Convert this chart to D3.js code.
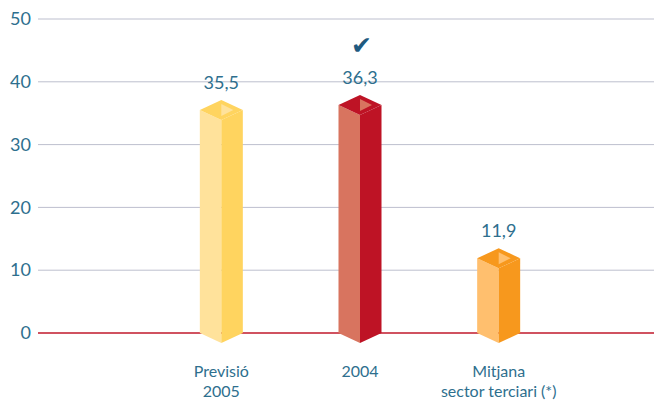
<!DOCTYPE html>
<html><head><meta charset="utf-8">
<script src="https://cdn.jsdelivr.net/npm/d3@7"></script>
<style>body{margin:0;background:#fff}svg{display:block}text{font-family:"Lato","Open Sans",sans-serif}</style>
</head><body>
<script>
const categories = [["Previsió","2005"],["2004"],["Mitjana","sector terciari (*)"]];
const values = [35.5, 36.3, 11.9];
const valueLabels = ["35,5","36,3","11,9"];
const yTicks = [0,10,20,30,40,50];
const leftColors = ["#FFE29B","#D8745F","#FFBF6E"];
const rightColors = ["#FFD45F","#BE1325","#F7981D"];

const W=654,H=400;
const svg=d3.select("body").append("svg").attr("width",W).attr("height",H);
const y=d3.scaleLinear().domain([0,50]).range([333,19]);
const x=d3.scaleBand().domain(d3.range(values.length)).range([152,568]);
const textColor="#2E6F8E";

// gridlines
svg.append("g").selectAll("line").data(yTicks.filter(d=>d>0)).join("line")
  .attr("x1",38).attr("x2",W).attr("y1",d=>y(d)).attr("y2",d=>y(d))
  .attr("stroke","#BDBFCE").attr("stroke-width",1);
svg.append("line").attr("x1",38).attr("x2",W).attr("y1",y(0)).attr("y2",y(0))
  .attr("stroke","#C0182B").attr("stroke-width",1.5);

// y axis labels
const yAxis=d3.axisLeft(y).tickValues(yTicks).tickSize(0).tickPadding(0);
const ga=svg.append("g").attr("transform","translate(31,0)").call(yAxis);
ga.select(".domain").remove();
ga.selectAll("text").attr("font-size",18).attr("fill",textColor).attr("font-family","Lato, sans-serif");

const hw=21.5, dz=10;
const g=svg.append("g");
values.forEach((v,i)=>{
  const cx=x(i)+x.bandwidth()/2, top=y(v), base=y(0);
  const L=cx-hw,R=cx+hw;
  g.append("polygon").attr("points",[[L,top],[cx,top+dz],[cx,base+dz],[L,base]].join(" ")).attr("fill",leftColors[i]);
  g.append("polygon").attr("points",[[cx,top+dz],[R,top],[R,base],[cx,base+dz]].join(" ")).attr("fill",rightColors[i]);
  g.append("polygon").attr("points",[[L,top],[cx,top-dz],[R,top],[cx,top+dz]].join(" ")).attr("fill",rightColors[i]);
  g.append("polygon").attr("points",[[cx,top-dz+4],[cx,top+dz-4],[cx+12,top]].join(" ")).attr("fill",leftColors[i]);
  g.append("text").attr("x",cx).attr("y",top-dz-11).attr("text-anchor","middle")
    .attr("font-size",18).attr("fill",textColor).text(valueLabels[i]);
  categories[i].forEach((t,j)=>{
    g.append("text").attr("x",cx).attr("y",377+j*20).attr("text-anchor","middle")
      .attr("font-size",16).attr("fill",textColor).text(t);
  });
});
// checkmark above 2004
svg.append("text").attr("x",x(1)+x.bandwidth()/2+1).attr("y",54).attr("text-anchor","middle")
  .attr("font-size",25).attr("fill","#1F5A80").attr("font-family","DejaVu Sans").text("✔");
</script>
</body></html>
